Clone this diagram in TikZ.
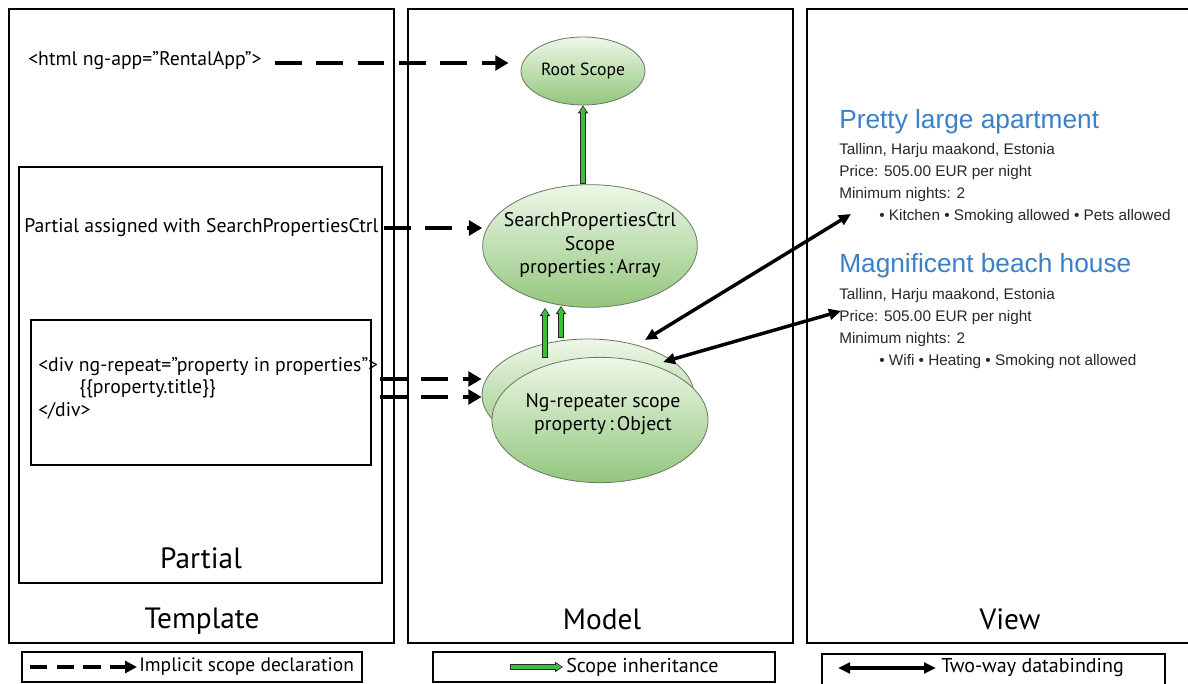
\documentclass[tikz,border=0pt]{standalone}
\usepackage{fontspec}
\setmainfont{PT Sans}
\newfontfamily\arialf{Liberation Sans}
\usetikzlibrary{shapes.geometric,arrows.meta}
\definecolor{elltop}{RGB}{238,247,232}
\definecolor{ellbot}{RGB}{146,198,124}
\definecolor{elledge}{RGB}{105,120,95}
\definecolor{inhgreen}{RGB}{60,190,60}
\definecolor{viewblue}{RGB}{58,128,200}
\definecolor{viewtext}{RGB}{40,40,40}
\tikzset{
  panel/.style={draw=black,line width=0.8pt},
  scopeell/.style={ellipse,draw=elledge,line width=0.6pt,top color=elltop,bottom color=ellbot,inner sep=0pt,align=center,font=\fontsize{14.6}{17.5}\selectfont},
  implicit/.style={line width=2.8pt,dash pattern=on 20pt off 11pt,-{Triangle[length=10pt,width=11pt]}},
  implicitleg/.style={line width=2.6pt,dash pattern=on 13pt off 7pt,-{Triangle[length=9pt,width=9pt]}},
  inh/.style={line width=4.2pt,draw=black!85,-{Triangle[length=6pt,width=7.5pt]},
    postaction={draw=inhgreen,line width=2.6pt,-{Triangle[length=4.2pt,width=4.8pt]},shorten >=0.9pt,shorten <=0.6pt}},
  twoway/.style={line width=2.6pt,{Triangle[length=9pt,width=8pt]}-{Triangle[length=9pt,width=8pt]}},
  lbl/.style={font=\fontsize{14.8}{17.5}\selectfont,inner sep=0pt},
  biglbl/.style={font=\fontsize{22}{26}\selectfont,inner sep=0pt},
  vtitle/.style={font=\arialf\fontsize{19.7}{23}\selectfont,text=viewblue,anchor=west,inner sep=0pt},
  vline/.style={font=\arialf\fontsize{11.5}{14}\selectfont,text=viewtext,anchor=west,inner sep=0pt},
  legtext/.style={font=\fontsize{15}{18}\selectfont,anchor=west,inner sep=0pt}
}
\begin{document}
\begin{tikzpicture}[x=0.75pt,y=-0.75pt]
\clip (0,0) rectangle (1188,684);
\fill[white] (0,0) rectangle (1188,684);
% panels
\draw[panel] (9,9) rectangle (394,643);
\draw[panel] (408,9) rectangle (793,643);
\draw[panel] (807,9) rectangle (1200,643);
\draw[panel] (19,167) rectangle (382,583);
\draw[panel] (31,320) rectangle (371,465);
% panel labels
\node[biglbl] (ltemplate) at (202,621) {Template};
\node[biglbl] (lmodel) at (602,619) {Model};
\node[biglbl] (lview) at (1010,619) {View};
\node[biglbl] (lpartial) at (201,558) {Partial};
% template texts
\node[lbl,anchor=west] (html) at (28,61) {<html ng-app=”RentalApp”>};
\node[lbl,anchor=west] (partial) at (24,228) {Partial assigned with SearchPropertiesCtrl};
\node[lbl,anchor=west] (div1) at (38,367) {<div ng-repeat=”property in properties”>};
\node[lbl,anchor=west] (div2) at (79,389) {\{\{property.title\}\}};
\node[lbl,anchor=west] (div3) at (38,411) {</div>};
% scopes
\node[scopeell,minimum width=93pt,minimum height=51pt,font=\fontsize{13.2}{16}\selectfont] (root) at (583,71) {Root Scope};
\node[scopeell,minimum width=161pt,minimum height=92pt] (search) at (590,246) {};
\node[lbl,align=center] (searchtext) at (590,245) {SearchPropertiesCtrl\\Scope\\properties\,:\,Array};
\node[scopeell,minimum width=159pt,minimum height=84pt] (ngback) at (588,395) {};
\node[scopeell,minimum width=162pt,minimum height=94pt] (ngfront) at (600,420) {};
\node[lbl,align=center] (ngtext) at (603,414) {Ng-repeater scope\\property\,:\,Object};
% implicit arrows
\coordinate (htmlend) at (275,63);
\coordinate (partend) at (384,228);
\coordinate (d1) at (380,379);
\coordinate (d2) at (380,397);
\draw[implicit,shorten >=9pt] (htmlend) -- (root.west |- htmlend);
\draw[implicit] (partend) -- (search.west |- partend);
\draw[implicit] (d1) -- (ngback.west |- d1);
\draw[implicit] (d2) -- (ngback.west |- d2);
% inheritance arrows
\draw[inh] (search.north -| root.south) -- (root.south);
\coordinate (i1s) at (545,358);
\coordinate (i1e) at (545,308);
\coordinate (i2s) at (561,338);
\coordinate (i2e) at (561,306);
\draw[inh] (i1s) -- (i1e);
\draw[inh] (i2s) -- (i2e);
% view
\node[vtitle] (t1) at (839,122) {Pretty large apartment};
\node[vline] (a1) at (839,151) {Tallinn, Harju maakond, Estonia};
\node[vline] (a2) at (839,173) {Price: 505.00 EUR per night};
\node[vline] (a3) at (839,195) {Minimum nights: 2};
\node[vline] (a4) at (879,217) {• Kitchen • Smoking allowed • Pets allowed};
\node[vtitle] (t2) at (839,266) {Magnificent beach house};
\node[vline] (b1) at (839,296) {Tallinn, Harju maakond, Estonia};
\node[vline] (b2) at (839,318) {Price: 505.00 EUR per night};
\node[vline] (b3) at (839,340) {Minimum nights: 2};
\node[vline] (b4) at (879,362) {• Wifi • Heating • Smoking not allowed};
% two-way arrows
\coordinate (w1s) at (645,340);
\coordinate (w1e) at (851,214);
\coordinate (w2s) at (663,362);
\coordinate (w2e) at (841,311);
\draw[twoway] (w1s) -- (w1e);
\draw[twoway] (w2s) -- (w2e);
% legend
\draw[panel] (22,652) rectangle (362,682);
\draw[panel] (433,652) rectangle (775,682);
\draw[panel] (822,654) rectangle (1165,690);
\coordinate (l1s) at (30,667);
\coordinate (l1e) at (137,667);
\draw[implicitleg] (l1s) -- (l1e);
\node[legtext,font=\fontsize{14.6}{18}\selectfont] (l1t) at (139,667) {Implicit scope declaration};
\coordinate (l2s) at (510,667);
\coordinate (l2e) at (563,667);
\draw[inh] (l2s) -- (l2e);
\node[legtext] (l2t) at (566,667) {Scope inheritance};
\coordinate (l3s) at (838,668);
\coordinate (l3e) at (936,668);
\draw[twoway] (l3s) -- (l3e);
\node[legtext] (l3t) at (941,668) {Two-way databinding};
\end{tikzpicture}
\end{document}
